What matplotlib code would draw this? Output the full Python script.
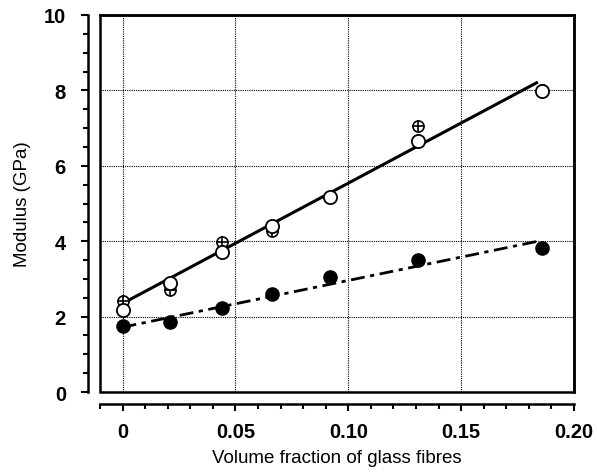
import numpy as np
import matplotlib
matplotlib.use('Agg')
import matplotlib.pyplot as plt
from matplotlib.patches import Rectangle
from matplotlib.ticker import MultipleLocator

plt.rcParams['font.family'] = ['Liberation Sans', 'DejaVu Sans']

# volume fraction of glass fibres
vf = [0.0, 0.021, 0.044, 0.066, 0.092, 0.131, 0.186]
# modulus (GPa), three data sets
open_pts = [2.17, 2.89, 3.71, 4.40, 5.17, 6.66, 7.98]
cross_pts = [2.41, 2.70, 3.97, 4.27, 5.17, 7.06, 8.00]
filled_pts = [1.75, 1.86, 2.23, 2.60, 3.05, 3.50, 3.82]
# fitted lines (end points)
fit_x = [0.0, 0.184]
fit_upper = [2.35, 8.22]
fit_lower = [1.72, 4.00]

fig = plt.figure(figsize=(5.97, 4.77), dpi=100)
ax = fig.add_axes([0.1675, 0.176, 0.794, 0.7905])

ax.set_xlim(-0.01, 0.20)
ax.set_ylim(0, 10)

ax.grid(True, which='major', linestyle=(0, (1, 1)), color='black', linewidth=0.8)

ax.plot(fit_x, fit_upper, color='black', lw=2.2, solid_capstyle='butt', zorder=3)
ax.plot(fit_x, fit_lower, color='black', lw=2.0, dashes=(5, 2, 1.5, 2), zorder=3)

ax.plot(vf, cross_pts, 'o', ms=8, mfc='white', mec='black', mew=1.2, zorder=4)
ax.plot(vf, cross_pts, '+', ms=8, mec='black', mew=1.2, zorder=4)
ax.plot(vf, open_pts, 'o', ms=9.5, mfc='white', mec='black', mew=1.3, zorder=5)
ax.plot(vf, filled_pts, 'o', ms=9.5, color='black', zorder=5)

# detached axes, frame around the data area
for s in ['left', 'bottom']:
    ax.spines[s].set_position(('outward', 8.5))
    ax.spines[s].set_linewidth(1.8)
for s in ['top', 'right']:
    ax.spines[s].set_linewidth(1.8)
ax.add_patch(Rectangle((0, 0), 1, 1, transform=ax.transAxes, fill=False,
                       lw=1.8, ec='black', clip_on=False, zorder=6))

ax.set_xticks([0, 0.05, 0.10, 0.15, 0.20])
ax.set_xticklabels(['0', '0.05', '0.10', '0.15', '0.20'])
ax.xaxis.set_minor_locator(MultipleLocator(0.01))
ax.set_yticks([0, 2, 4, 6, 8, 10])
ax.yaxis.set_minor_locator(MultipleLocator(0.5))
ax.tick_params(which='major', direction='out', length=5, width=1.5, labelsize=14.5)
ax.tick_params(which='minor', direction='out', length=3.5, width=1.5)
ax.tick_params(axis='x', which='both', top=False, pad=8)
ax.tick_params(axis='y', which='both', right=False, pad=11)
for lab in ax.get_xticklabels() + ax.get_yticklabels():
    lab.set_fontweight('bold')

ax.set_xlabel('Volume fraction of glass fibres', fontsize=13.5, labelpad=6)
ax.set_ylabel('Modulus (GPa)', fontsize=13.5, labelpad=9)

fig.savefig('out.png', dpi=100)
